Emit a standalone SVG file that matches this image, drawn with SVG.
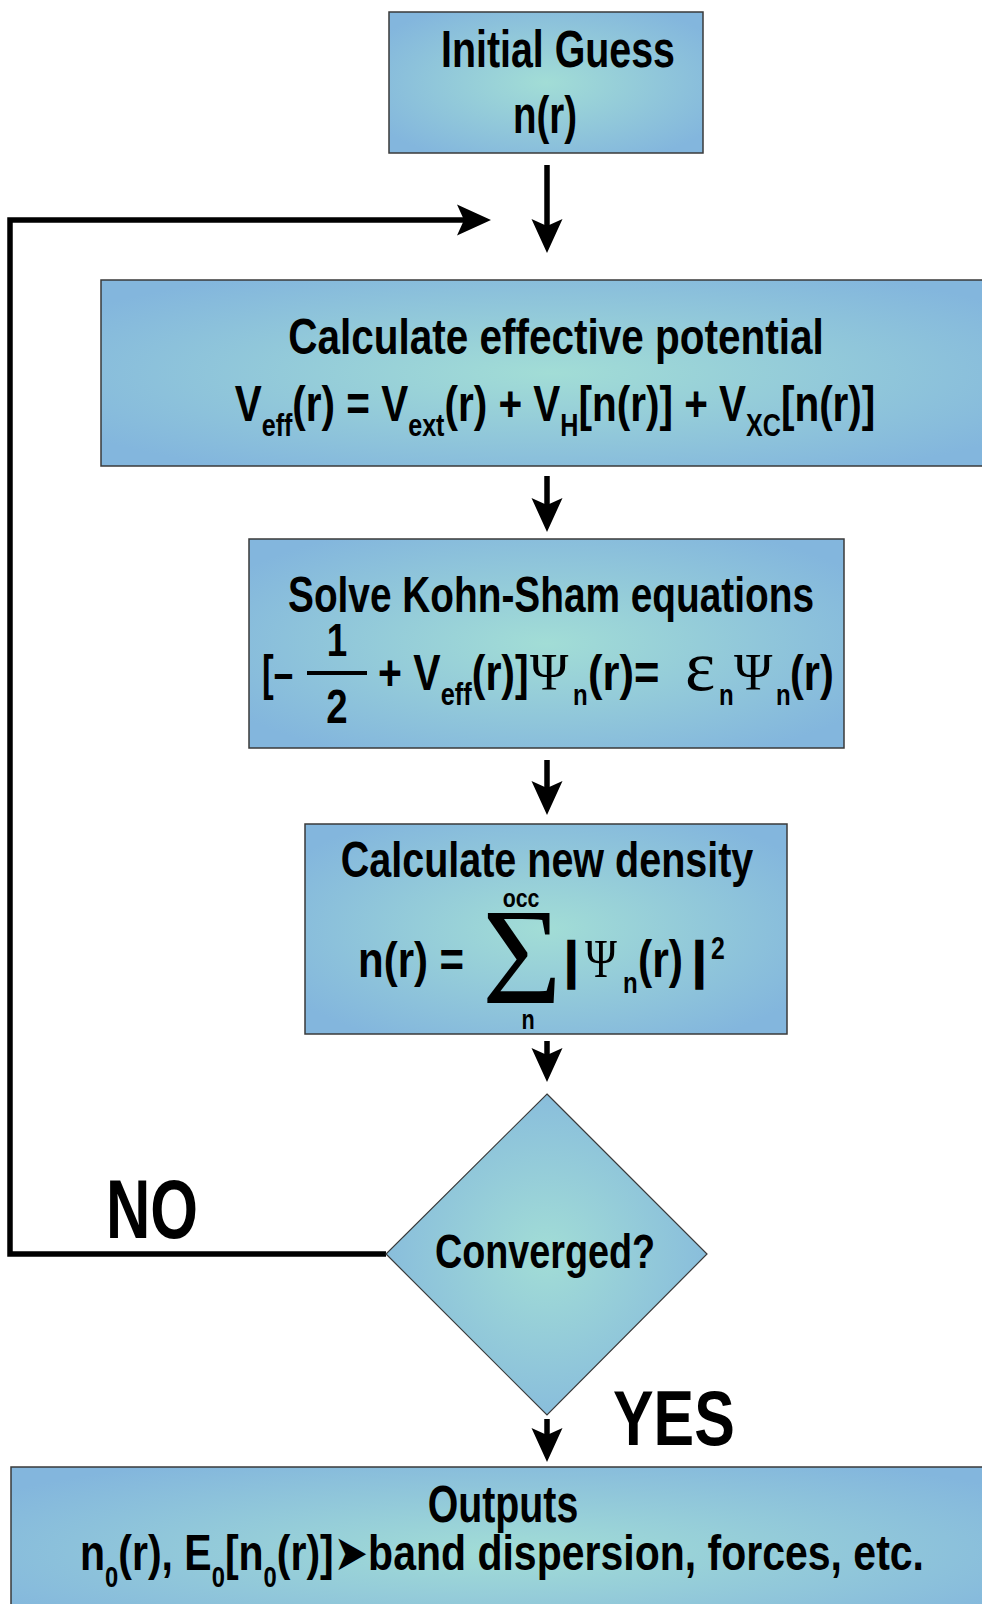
<svg xmlns="http://www.w3.org/2000/svg" width="982" height="1604" viewBox="0 0 982 1604">
<style>
.box{stroke:#3a3a3a;stroke-width:1.5;fill:url(#gb)}
.t{font-family:"Liberation Sans",Arial,sans-serif;font-weight:bold;fill:#000}
.g{font-family:"Liberation Serif","DejaVu Serif",serif;font-weight:normal;fill:#000}
.m{text-anchor:middle}
.ln{fill:none;stroke:#000;stroke-width:5.5;stroke-linejoin:miter}
</style>
<defs>
<radialGradient id="gb" cx="0.5" cy="0.5" r="0.62">
<stop offset="0" stop-color="#a2ddd6"/>
<stop offset="1" stop-color="#83b6dd"/>
</radialGradient>
<marker id="ah" markerUnits="userSpaceOnUse" markerWidth="40" markerHeight="40" refX="7" refY="16" orient="auto" overflow="visible">
<path d="M34,16 L0,0.5 L7,16 L0,31.5 Z" fill="#000"/>
</marker>
</defs>
<rect width="982" height="1604" fill="#fff"/>

<g id="connectors">
<line class="ln" x1="547" y1="165" x2="547" y2="226" marker-end="url(#ah)"/>
<path class="ln" d="M386,1254 H10 V220 H464" marker-end="url(#ah)"/>
<line class="ln" x1="547" y1="476" x2="547" y2="505" marker-end="url(#ah)"/>
<line class="ln" x1="547" y1="760" x2="547" y2="788" marker-end="url(#ah)"/>
<line class="ln" x1="547" y1="1041" x2="547" y2="1055" marker-end="url(#ah)"/>
<line class="ln" x1="547" y1="1419" x2="547" y2="1435" marker-end="url(#ah)"/>
</g>

<g id="initial-guess">
<rect class="box" x="389" y="12" width="314" height="141"/>
<text class="t m" font-size="52" transform="translate(558,67) scale(0.757,1)">Initial Guess</text>
<text class="t m" font-size="52" transform="translate(545,133) scale(0.74,1)">n(r)</text>
</g>

<g id="effective-potential">
<rect class="box" x="101" y="280" width="900" height="186"/>
<text class="t m" font-size="50" transform="translate(556,354) scale(0.81,1)">Calculate effective potential</text>
<text class="t m" font-size="50" transform="translate(555,421) scale(0.81,1)">V<tspan font-size="31" dy="15">eff</tspan><tspan dy="-15">(r) = V</tspan><tspan font-size="31" dy="15">ext</tspan><tspan dy="-15">(r) + V</tspan><tspan font-size="31" dy="15">H</tspan><tspan dy="-15">[n(r)] + V</tspan><tspan font-size="31" dy="15">XC</tspan><tspan dy="-15">[n(r)]</tspan></text>
</g>

<g id="kohn-sham">
<rect class="box" x="249" y="539" width="595" height="209"/>
<text class="t m" font-size="50" transform="translate(551,612) scale(0.776,1)">Solve Kohn-Sham equations</text>
<text class="t" font-size="50" transform="translate(262,690) scale(0.7,1)">[–</text>
<text class="t m" font-size="46" transform="translate(337,656) scale(0.8,1)">1</text>
<line x1="307" y1="673" x2="367" y2="673" stroke="#000" stroke-width="4"/>
<text class="t m" font-size="48" transform="translate(337,723) scale(0.8,1)">2</text>
<text class="t" font-size="50" transform="translate(378,690) scale(0.82,1)">+ V<tspan font-size="31" dy="15">eff</tspan><tspan dy="-15">(r)]</tspan></text>
<text class="g" font-size="52" x="530" y="690">Ψ</text>
<text class="t" font-size="30" transform="translate(573,705) scale(0.8,1)">n</text>
<text class="t" font-size="50" transform="translate(588,690) scale(0.87,1)">(r)=</text>
<text class="g" font-size="72" x="685" y="690">ε</text>
<text class="t" font-size="30" transform="translate(719,705) scale(0.8,1)">n</text>
<text class="g" font-size="52" x="734" y="690">Ψ</text>
<text class="t" font-size="30" transform="translate(776,705) scale(0.8,1)">n</text>
<text class="t" font-size="50" transform="translate(790,690) scale(0.83,1)">(r)</text>
</g>

<g id="new-density">
<rect class="box" x="305" y="824" width="482" height="210"/>
<text class="t m" font-size="50" transform="translate(547,877) scale(0.79,1)">Calculate new density</text>
<text class="t" font-size="50" transform="translate(358,977) scale(0.84,1)">n(r) =</text>
<text class="t m" font-size="26" transform="translate(521,907) scale(0.82,1)">occ</text>
<text class="g" font-size="137" font-weight="bold" transform="translate(482,1003) scale(1.0,1)">Σ</text>
<text class="t m" font-size="27" transform="translate(528,1029) scale(0.8,1)">n</text>
<text class="t" font-size="50" stroke="#000" stroke-width="2.5" transform="translate(565,977) scale(0.9,1)">|</text>
<text class="g" font-size="54" transform="translate(585,977) scale(0.8,1)">Ψ</text>
<text class="t" font-size="30" transform="translate(623,993) scale(0.8,1)">n</text>
<text class="t" font-size="52" transform="translate(638,977) scale(0.82,1)">(r)</text>
<text class="t" font-size="50" stroke="#000" stroke-width="2.5" transform="translate(693,977) scale(0.9,1)">|</text>
<text class="t" font-size="31" transform="translate(711,959) scale(0.8,1)">2</text>
</g>

<g id="converged">
<polygon points="547,1094 707,1254 547,1415 386,1254" fill="url(#gb)" stroke="#3a3a3a" stroke-width="1.2"/>
<text class="t m" font-size="48" transform="translate(545,1268) scale(0.786,1)">Converged?</text>
</g>

<g id="label-no">
<text class="t" font-size="83" transform="translate(106,1238) scale(0.74,1)">NO</text>
</g>
<g id="label-yes">
<text class="t" font-size="77" transform="translate(613,1445) scale(0.79,1)">YES</text>
</g>

<g id="outputs">
<rect class="box" x="11" y="1467" width="1000" height="170"/>
<text class="t m" font-size="51" transform="translate(503,1522) scale(0.77,1)">Outputs</text>
<text class="t m" font-size="50" transform="translate(502,1570) scale(0.82,1)">n<tspan font-size="29" dy="17">0</tspan><tspan dy="-17">(r), E</tspan><tspan font-size="29" dy="17">0</tspan><tspan dy="-17">[n</tspan><tspan font-size="29" dy="17">0</tspan><tspan dy="-17">(r)]</tspan><tspan font-family="'DejaVu Sans',sans-serif">➤</tspan>band dispersion, forces, etc.</text>
</g>
</svg>
